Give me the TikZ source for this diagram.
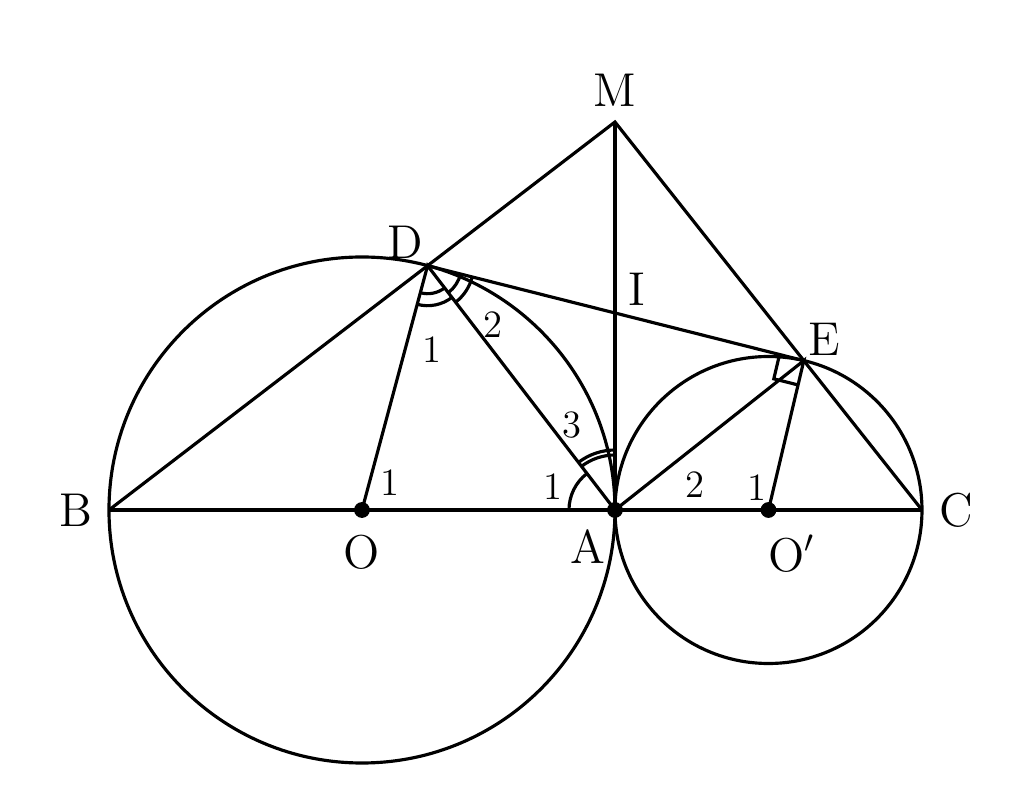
\documentclass[tikz,border=0pt]{standalone}
\usetikzlibrary{positioning, calc, angles}
\tikzset{pt/.style={circle, fill=black, inner sep=0pt, minimum size=4.5pt},
         num/.style={font=\fontsize{11}{13}\selectfont}}
\begin{document}
\begin{tikzpicture}[
    every node/.style={font=\fontsize{13.5}{15}\selectfont, inner sep=1pt},
    every path/.style={line width=0.9pt, black}
]
\useasboundingbox (-6.15,-2.78) rectangle (4.09,5.10);

% Puntos
\coordinate (A) at (0,0);
\coordinate (O) at (-2.53,0);
\coordinate (B) at (-5.06,0);
\coordinate (O2) at (1.535,0);
\coordinate (C) at (3.07,0);
\coordinate (M) at (0,3.88);
\coordinate (D) at ($(B)!(A)!(M)$);
\coordinate (E) at ($(C)!(A)!(M)$);
\coordinate (I) at (intersection of D--E and A--M);

% Circunferencias
\draw (O) circle (2.53);
\draw (O2) circle (1.535);

% Segmentos
\draw (B) -- (C);
\draw (B) -- (M) -- (C);
\draw (M) -- (A);
\draw (D) -- (E);
\draw (O) -- (D) -- (A) -- (E) -- (O2);

% Marcas de angulos
\pic [draw, angle radius=0.28cm] {angle = O--D--A};
\pic [draw, angle radius=0.40cm] {angle = O--D--A};
\pic [draw, angle radius=0.34cm] {angle = A--D--E};
\pic [draw, angle radius=0.46cm] {angle = A--D--E};
\pic [draw, angle radius=0.46cm] {angle = D--A--B};
\pic [draw, line width=1.2pt, angle radius=0.55cm] {angle = M--A--D};
\pic [draw, line width=1.2pt, angle radius=0.60cm] {angle = M--A--D};
\pic [draw, angle radius=0.25cm] {right angle = D--E--O2};

% Puntos marcados
\node (pO) [pt] at (O) {};
\node (pO2) [pt] at (O2) {};
\node (pA) [pt] at (A) {};

% Etiquetas
\node (lM) [above=0.1 of M] {M};
\node (lD) [above left=0.02 and 0.0 of D] {D};
\node (lI) [above right=0.02 and 0.08 of I] {I};
\node (lE) [above right=0.0 and 0.0 of E] {E};
\node (lB) [left=0.12 of B] {B};
\node (lC) [right=0.12 of C] {C};
\node (lO) [below=0.2 of O] {O};
\node (lA) [below left=0.15 and 0.05 of A] {A};
\node (lO2) [below right=0.2 and -0.05 of O2] {O$'$};

% Numeros de angulos
\node (d1) [num] at (-1.83,1.60) {1};
\node (d2) [num] at (-1.22,1.85) {2};
\node (a3) [num] at (-0.43,0.85) {3};
\node (a1) [num] at (-0.62,0.23) {1};
\node (a2) [num] at (0.80,0.25) {2};
\node (o1) [num] at (-2.25,0.27) {1};
\node (q1) [num] at (1.42,0.22) {1};

\end{tikzpicture}
\end{document}
